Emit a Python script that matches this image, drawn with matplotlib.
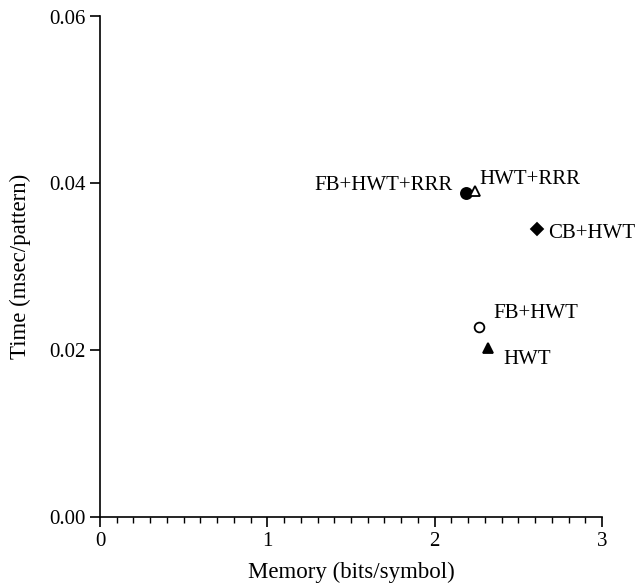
import matplotlib
matplotlib.use("Agg")
import matplotlib.pyplot as plt
from matplotlib.ticker import MultipleLocator

plt.rcParams['font.family'] = ['Liberation Serif', 'DejaVu Serif']

labels = ["FB+HWT+RRR", "HWT+RRR", "CB+HWT", "FB+HWT", "HWT"]
memory = [2.185, 2.241, 2.613, 2.267, 2.32]
time = [0.0388, 0.0391, 0.0345, 0.0228, 0.0203]
markers = ["o", "^", "D", "o", "^"]
filled = [True, False, True, False, True]
sizes = [8, 7, 6, 7, 7]
offsets = [(-13, 8), (4, 11), (11, -4), (14, 13), (15, -12)]
haligns = ["right", "left", "left", "left", "left"]

fig = plt.figure(figsize=(6.37, 5.86), dpi=100)
ax = fig.add_axes([100/637, 69/586, 502/637, 500.5/586])

for x, y, m, f, s, lab, off, ha in zip(memory, time, markers, filled, sizes, labels, offsets, haligns):
    ax.plot([x], [y], marker=m, markersize=s, color='black',
            markerfacecolor='black' if f else 'white', markeredgewidth=1.3, linestyle='none')
    ax.annotate(lab, (x, y), xytext=off, textcoords='offset pixels',
                ha=ha, va='center', fontsize=15)

ax.set_xlim(0, 3)
ax.set_ylim(0, 0.06)
ax.xaxis.set_major_locator(MultipleLocator(1))
ax.xaxis.set_minor_locator(MultipleLocator(0.1))
ax.yaxis.set_major_locator(MultipleLocator(0.02))
ax.yaxis.set_major_formatter(matplotlib.ticker.FormatStrFormatter('%.2f'))
ax.spines['top'].set_visible(False)
ax.spines['right'].set_visible(False)
ax.spines['left'].set_linewidth(1.2)
ax.spines['bottom'].set_linewidth(1.2)
ax.tick_params(axis='both', which='major', length=7.5, width=1.2, direction='out', labelsize=15, pad=3)
ax.tick_params(axis='x', which='minor', length=4, width=1.0, direction='out')
ax.set_xlabel("Memory (bits/symbol)", fontsize=16.5, labelpad=8)
ax.set_ylabel("Time (msec/pattern)", fontsize=16.5, labelpad=13)

fig.savefig("out.png", dpi=100)
